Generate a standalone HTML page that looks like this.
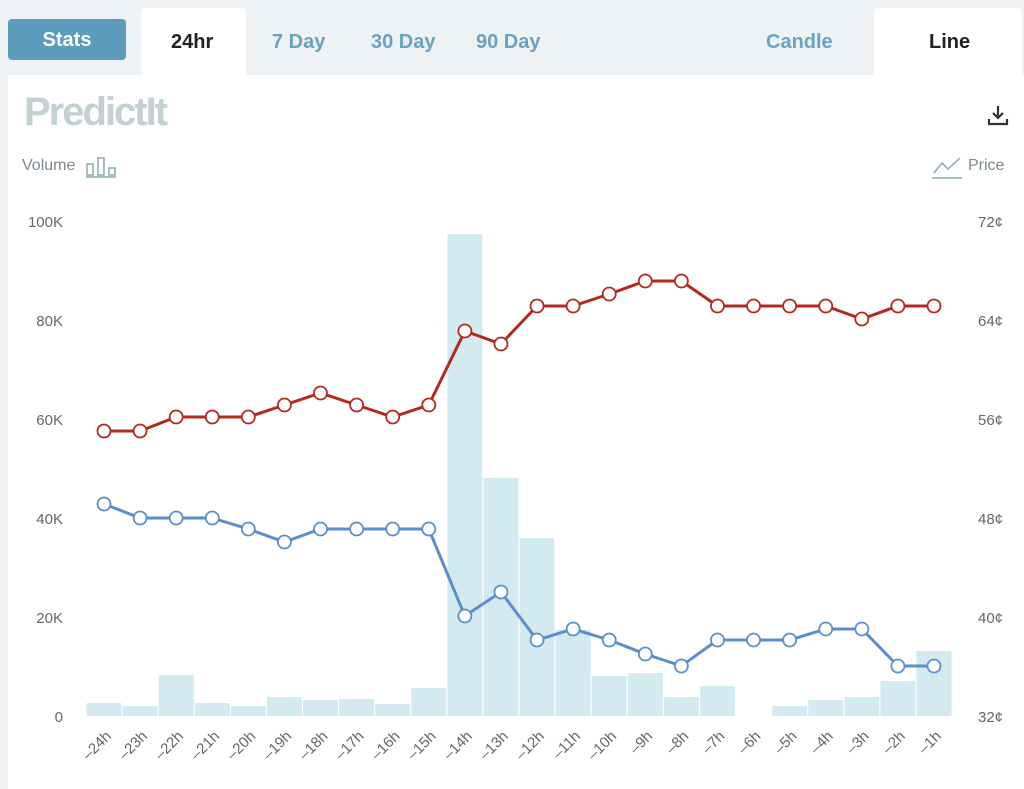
<!DOCTYPE html>
<html><head><meta charset="utf-8"><style>
body{margin:0;width:1024px;height:789px;background:#fff;font-family:"Liberation Sans",sans-serif;overflow:hidden;position:relative}
.top{position:absolute;left:0;top:0;width:1024px;height:75px;background:#eef2f4}
.t{position:absolute;font-weight:bold;font-size:20px;color:#6aa3bf;top:31px}
</style></head><body>
<div class="top"></div>
<div style="position:absolute;left:0;top:75px;width:8px;height:714px;background:#eef2f4"></div>
<div style="position:absolute;left:8px;top:19px;width:118px;height:41px;background:#5b9dba;border-radius:4px;color:#fff;font-weight:bold;font-size:20px;text-align:center;line-height:43px">Stats</div>
<div style="position:absolute;left:141px;top:8px;width:105px;height:67px;background:#fff;border-radius:4px 4px 0 0"></div>
<div class="t" style="left:171px;color:#222">24hr</div>
<div class="t" style="left:272px">7 Day</div>
<div class="t" style="left:371px">30 Day</div>
<div class="t" style="left:476px">90 Day</div>
<div class="t" style="left:766px">Candle</div>
<div style="position:absolute;left:874px;top:8px;width:148px;height:67px;background:#fff;border-radius:4px 4px 0 0"></div>
<div class="t" style="left:929px;color:#222">Line</div>
<div style="position:absolute;left:24px;top:90px;font-size:40px;font-weight:bold;color:#c3d0d4;letter-spacing:-2px">PredictIt</div>
<div style="position:absolute;left:22px;top:157px;font-size:16px;color:#7a8a90">Volume</div>
<svg style="position:absolute;left:86px;top:155px" width="32" height="24"><rect x="1" y="9" width="6" height="11" fill="none" stroke="#8aa" stroke-width="1.5"/><rect x="12" y="3" width="6" height="17" fill="none" stroke="#8aa" stroke-width="1.5"/><rect x="23" y="13" width="6" height="7" fill="none" stroke="#8aa" stroke-width="1.5"/><line x1="0" y1="22" x2="30" y2="22" stroke="#8aa" stroke-width="1.5"/></svg>
<div style="position:absolute;left:968px;top:157px;font-size:16px;color:#7a8a90">Price</div>
<svg style="position:absolute;left:932px;top:155px" width="32" height="26"><polyline points="2,18 10,8 16,14 28,3" fill="none" stroke="#8aa" stroke-width="1.5"/><line x1="0" y1="23" x2="30" y2="23" stroke="#8aa" stroke-width="1.5"/></svg>
<svg style="position:absolute;left:986px;top:104px" width="24" height="24"><path d="M12 2v12M7 9l5 5 5-5M3 15v5h18v-5" fill="none" stroke="#333" stroke-width="2.2"/></svg>
<svg id="c" style="position:absolute;left:0;top:0" width="1024" height="789"></svg>
<script>
var s='',cx=i=>104+i*36.087;
var bars=[703,706,675,703,706,697,700,699,704,688,234,478,538,630,676,673,697,686,null,706,700,697,681,651];
bars.forEach((b,i)=>{if(b!==null)s+=`<rect x="${cx(i)-17.5}" y="${b}" width="35" height="${716-b}" fill="#d3eaf1" rx="1"/>`});
var L=['0','20K','40K','60K','80K','100K'],R=['32¢','40¢','48¢','56¢','64¢','72¢'];
for(var k=0;k<6;k++){var y=716-k*99;s+=`<text x="63" y="${y+6}" text-anchor="end" font-size="15" fill="#666">${L[k]}</text><text x="978" y="${y+6}" font-size="15" fill="#666">${R[k]}</text>`}
for(var i=0;i<24;i++){var x=cx(i);s+=`<text transform="translate(${x+8},${737}) rotate(-45)" text-anchor="end" font-size="15" fill="#666">–${24-i}h</text>`}
function line(v,c){var p=v.map((y,i)=>cx(i)+','+y).join(' ');s+=`<polyline points="${p}" fill="none" stroke="${c}" stroke-width="3"/>`;v.forEach((y,i)=>s+=`<circle cx="${cx(i)}" cy="${y}" r="6.5" fill="#fff" stroke="${c}" stroke-width="1.8"/>`)}
line([431,431,417,417,417,405,393,405,417,405,331,344,306,306,294,281,281,306,306,306,306,319,306,306],'#b22a1e');
line([504,518,518,518,529,542,529,529,529,529,616,592,640,629,640,654,666,640,640,640,629,629,666,666],'#5a8fcc');
document.getElementById('c').innerHTML=s;
</script>
</body></html>
